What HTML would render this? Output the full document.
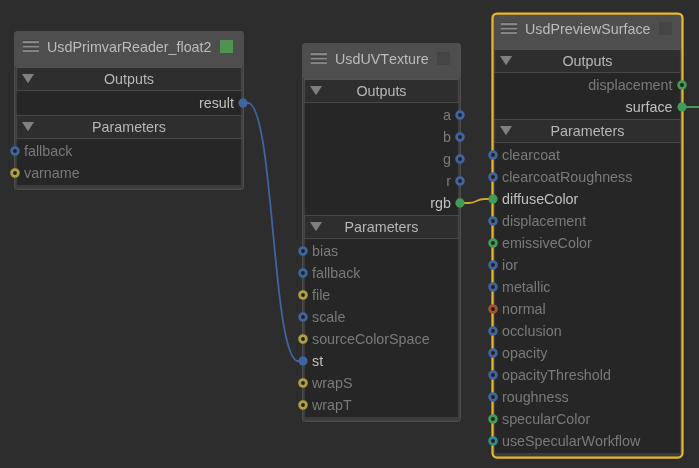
<!DOCTYPE html>
<html><head><meta charset="utf-8"><title>Node Graph</title>
<style>
html,body{margin:0;padding:0}
body{width:699px;height:468px;overflow:hidden;background:#2d2d2d;position:relative;font-family:"Liberation Sans",sans-serif;font-size:14.3px}
#all{position:absolute;left:0;top:0;width:699px;height:468px;will-change:transform}
svg{position:absolute;left:0;top:0}
.t{position:absolute;white-space:nowrap;line-height:18px;height:18px;font-kerning:none}
</style></head><body><div id="all">
<svg width="699" height="468" viewBox="0 0 699 468">
<rect x="14.6" y="31.6" width="228.8" height="157.8" rx="3.5" fill="#3c3c3c" stroke="#4e4e4e" stroke-width="1.2"/>
<path d="M14 66V35.0Q14 31 18.0 31H240.0Q244 31 244 35.0V66Z" fill="#4e4e4e"/>
<rect x="16.1" y="66" width="225.8" height="2" fill="#4e4e4e"/>
<rect x="16.1" y="67" width="225.8" height="1" fill="#525252"/>
<rect x="17.1" y="68" width="223.8" height="117" fill="#262626"/>
<rect x="22.8" y="40.2" width="16.2" height="0.90" fill="#414141"/>
<rect x="22.8" y="41.1" width="16.2" height="2.00" fill="#8a8a8a"/>
<rect x="22.8" y="44.2" width="16.2" height="1.60" fill="#414141"/>
<rect x="22.8" y="45.8" width="16.2" height="1.60" fill="#8a8a8a"/>
<rect x="22.8" y="48.6" width="16.2" height="1.50" fill="#414141"/>
<rect x="22.8" y="50.1" width="16.2" height="1.80" fill="#8a8a8a"/>
<rect x="220" y="40" width="13" height="13" fill="#509350"/>
<rect x="16.1" y="68" width="225.8" height="23" fill="#484848"/>
<rect x="17.1" y="68" width="223.8" height="22" fill="#2e2e2e"/>
<path d="M22 74h12l-6 9.3z" fill="#808080"/>
<rect x="16.1" y="115" width="225.8" height="24" fill="#484848"/>
<rect x="17.1" y="116" width="223.8" height="22" fill="#2e2e2e"/>
<path d="M22 122h12l-6 9.3z" fill="#808080"/>
<rect x="302.6" y="43.6" width="157.8" height="377.8" rx="3.5" fill="#3c3c3c" stroke="#4e4e4e" stroke-width="1.2"/>
<path d="M302 78V47.0Q302 43 306.0 43H457.0Q461 43 461 47.0V78Z" fill="#4e4e4e"/>
<rect x="304.1" y="78" width="154.8" height="2" fill="#4e4e4e"/>
<rect x="304.1" y="79" width="154.8" height="1" fill="#525252"/>
<rect x="305.1" y="80" width="152.8" height="337" fill="#262626"/>
<rect x="310.8" y="52.2" width="16.2" height="0.90" fill="#414141"/>
<rect x="310.8" y="53.1" width="16.2" height="2.00" fill="#8a8a8a"/>
<rect x="310.8" y="56.2" width="16.2" height="1.60" fill="#414141"/>
<rect x="310.8" y="57.8" width="16.2" height="1.60" fill="#8a8a8a"/>
<rect x="310.8" y="60.6" width="16.2" height="1.50" fill="#414141"/>
<rect x="310.8" y="62.1" width="16.2" height="1.80" fill="#8a8a8a"/>
<rect x="437" y="52" width="13" height="13" fill="#454545"/>
<rect x="304.1" y="80" width="154.8" height="23" fill="#484848"/>
<rect x="305.1" y="80" width="152.8" height="22" fill="#2e2e2e"/>
<path d="M310 86h12l-6 9.3z" fill="#808080"/>
<rect x="304.1" y="215" width="154.8" height="24" fill="#484848"/>
<rect x="305.1" y="216" width="152.8" height="22" fill="#2e2e2e"/>
<path d="M310 222h12l-6 9.3z" fill="#808080"/>
<rect x="492.5" y="13.5" width="190" height="444" rx="4.5" fill="#3c3c3c"/>
<path d="M492 48V17.0Q492 13 496.0 13H679.0Q683 13 683 17.0V48Z" fill="#4e4e4e"/>
<rect x="494.1" y="48" width="186.8" height="2" fill="#4e4e4e"/>
<rect x="494.1" y="49" width="186.8" height="1" fill="#525252"/>
<rect x="495.1" y="50" width="184.8" height="403" fill="#262626"/>
<rect x="492.5" y="13.5" width="190" height="444" rx="4.5" fill="none" stroke="#eab726" stroke-width="2.25"/>
<rect x="500.8" y="22.2" width="16.2" height="0.90" fill="#414141"/>
<rect x="500.8" y="23.1" width="16.2" height="2.00" fill="#8a8a8a"/>
<rect x="500.8" y="26.2" width="16.2" height="1.60" fill="#414141"/>
<rect x="500.8" y="27.8" width="16.2" height="1.60" fill="#8a8a8a"/>
<rect x="500.8" y="30.6" width="16.2" height="1.50" fill="#414141"/>
<rect x="500.8" y="32.1" width="16.2" height="1.80" fill="#8a8a8a"/>
<rect x="659" y="22" width="13" height="13" fill="#454545"/>
<rect x="494.1" y="50" width="186.8" height="23" fill="#484848"/>
<rect x="495.1" y="50" width="184.8" height="22" fill="#2e2e2e"/>
<path d="M500 56h12l-6 9.3z" fill="#808080"/>
<rect x="494.1" y="119" width="186.8" height="24" fill="#484848"/>
<rect x="495.1" y="120" width="184.8" height="22" fill="#2e2e2e"/>
<path d="M500 126h12l-6 9.3z" fill="#808080"/>
<path d="M243 103H249C274 113 272 351 297 361H303" stroke="#40649f" stroke-width="1.8" fill="none"/>
<path d="M460 203H469C476 203 477 199 484 199H493" stroke="#d6a424" stroke-width="1.8" fill="none"/>
<path d="M682 107H699" stroke="#449a58" stroke-width="2" fill="none"/>
<circle cx="243" cy="103" r="4.65" fill="#40649f"/>
<circle cx="15" cy="151" r="3.35" fill="#212121" stroke="#40649f" stroke-width="2.85"/>
<circle cx="15" cy="173" r="3.35" fill="#212121" stroke="#afa13f" stroke-width="2.85"/>
<circle cx="460" cy="115" r="3.35" fill="#212121" stroke="#40649f" stroke-width="2.85"/>
<circle cx="460" cy="137" r="3.35" fill="#212121" stroke="#40649f" stroke-width="2.85"/>
<circle cx="460" cy="159" r="3.35" fill="#212121" stroke="#40649f" stroke-width="2.85"/>
<circle cx="460" cy="181" r="3.35" fill="#212121" stroke="#40649f" stroke-width="2.85"/>
<circle cx="460" cy="203" r="4.65" fill="#449a58"/>
<circle cx="303" cy="251" r="3.35" fill="#212121" stroke="#40649f" stroke-width="2.85"/>
<circle cx="303" cy="273" r="3.35" fill="#212121" stroke="#40649f" stroke-width="2.85"/>
<circle cx="303" cy="295" r="3.35" fill="#212121" stroke="#afa13f" stroke-width="2.85"/>
<circle cx="303" cy="317" r="3.35" fill="#212121" stroke="#40649f" stroke-width="2.85"/>
<circle cx="303" cy="339" r="3.35" fill="#212121" stroke="#afa13f" stroke-width="2.85"/>
<circle cx="303" cy="361" r="4.65" fill="#40649f"/>
<circle cx="303" cy="383" r="3.35" fill="#212121" stroke="#afa13f" stroke-width="2.85"/>
<circle cx="303" cy="405" r="3.35" fill="#212121" stroke="#afa13f" stroke-width="2.85"/>
<circle cx="682" cy="85" r="3.35" fill="#212121" stroke="#449a58" stroke-width="2.85"/>
<circle cx="682" cy="107" r="4.65" fill="#449a58"/>
<circle cx="493" cy="155" r="3.35" fill="#212121" stroke="#40649f" stroke-width="2.85"/>
<circle cx="493" cy="177" r="3.35" fill="#212121" stroke="#40649f" stroke-width="2.85"/>
<circle cx="493" cy="199" r="4.65" fill="#449a58"/>
<circle cx="493" cy="221" r="3.35" fill="#212121" stroke="#40649f" stroke-width="2.85"/>
<circle cx="493" cy="243" r="3.35" fill="#212121" stroke="#449a58" stroke-width="2.85"/>
<circle cx="493" cy="265" r="3.35" fill="#212121" stroke="#40649f" stroke-width="2.85"/>
<circle cx="493" cy="287" r="3.35" fill="#212121" stroke="#40649f" stroke-width="2.85"/>
<circle cx="493" cy="309" r="3.35" fill="#212121" stroke="#a25430" stroke-width="2.85"/>
<circle cx="493" cy="331" r="3.35" fill="#212121" stroke="#40649f" stroke-width="2.85"/>
<circle cx="493" cy="353" r="3.35" fill="#212121" stroke="#40649f" stroke-width="2.85"/>
<circle cx="493" cy="375" r="3.35" fill="#212121" stroke="#40649f" stroke-width="2.85"/>
<circle cx="493" cy="397" r="3.35" fill="#212121" stroke="#40649f" stroke-width="2.85"/>
<circle cx="493" cy="419" r="3.35" fill="#212121" stroke="#449a58" stroke-width="2.85"/>
<circle cx="493" cy="441" r="3.35" fill="#212121" stroke="#318a8e" stroke-width="2.85"/>
</svg>
<div class="t" style="left:47px;top:38px;color:#bcbcbc">UsdPrimvarReader_float2</div>
<div class="t" style="left:17px;width:224px;text-align:center;top:70px;color:#b7b7b7">Outputs</div>
<div class="t" style="left:17px;width:216.9px;text-align:right;top:94px;color:#c0c0c0">result</div>
<div class="t" style="left:17px;width:224px;text-align:center;top:118px;color:#b7b7b7">Parameters</div>
<div class="t" style="left:24px;top:142px;color:#7a7a7a">fallback</div>
<div class="t" style="left:24px;top:164px;color:#7a7a7a">varname</div>
<div class="t" style="left:335px;top:50px;color:#bcbcbc">UsdUVTexture</div>
<div class="t" style="left:305px;width:153px;text-align:center;top:82px;color:#b7b7b7">Outputs</div>
<div class="t" style="left:305px;width:145.9px;text-align:right;top:106px;color:#7a7a7a">a</div>
<div class="t" style="left:305px;width:145.9px;text-align:right;top:128px;color:#7a7a7a">b</div>
<div class="t" style="left:305px;width:145.9px;text-align:right;top:150px;color:#7a7a7a">g</div>
<div class="t" style="left:305px;width:145.9px;text-align:right;top:172px;color:#7a7a7a">r</div>
<div class="t" style="left:305px;width:145.9px;text-align:right;top:194px;color:#c0c0c0">rgb</div>
<div class="t" style="left:305px;width:153px;text-align:center;top:218px;color:#b7b7b7">Parameters</div>
<div class="t" style="left:312px;top:242px;color:#7a7a7a">bias</div>
<div class="t" style="left:312px;top:264px;color:#7a7a7a">fallback</div>
<div class="t" style="left:312px;top:286px;color:#7a7a7a">file</div>
<div class="t" style="left:312px;top:308px;color:#7a7a7a">scale</div>
<div class="t" style="left:312px;top:330px;color:#7a7a7a">sourceColorSpace</div>
<div class="t" style="left:312px;top:352px;color:#c0c0c0">st</div>
<div class="t" style="left:312px;top:374px;color:#7a7a7a">wrapS</div>
<div class="t" style="left:312px;top:396px;color:#7a7a7a">wrapT</div>
<div class="t" style="left:525px;top:20px;color:#bcbcbc">UsdPreviewSurface</div>
<div class="t" style="left:495px;width:185px;text-align:center;top:52px;color:#b7b7b7">Outputs</div>
<div class="t" style="left:495px;width:177.5px;text-align:right;top:76px;color:#7a7a7a">displacement</div>
<div class="t" style="left:495px;width:177.5px;text-align:right;top:98px;color:#c0c0c0">surface</div>
<div class="t" style="left:495px;width:185px;text-align:center;top:122px;color:#b7b7b7">Parameters</div>
<div class="t" style="left:502px;top:146px;color:#7a7a7a">clearcoat</div>
<div class="t" style="left:502px;top:168px;color:#7a7a7a">clearcoatRoughness</div>
<div class="t" style="left:502px;top:190px;color:#c0c0c0">diffuseColor</div>
<div class="t" style="left:502px;top:212px;color:#7a7a7a">displacement</div>
<div class="t" style="left:502px;top:234px;color:#7a7a7a">emissiveColor</div>
<div class="t" style="left:502px;top:256px;color:#7a7a7a">ior</div>
<div class="t" style="left:502px;top:278px;color:#7a7a7a">metallic</div>
<div class="t" style="left:502px;top:300px;color:#7a7a7a">normal</div>
<div class="t" style="left:502px;top:322px;color:#7a7a7a">occlusion</div>
<div class="t" style="left:502px;top:344px;color:#7a7a7a">opacity</div>
<div class="t" style="left:502px;top:366px;color:#7a7a7a">opacityThreshold</div>
<div class="t" style="left:502px;top:388px;color:#7a7a7a">roughness</div>
<div class="t" style="left:502px;top:410px;color:#7a7a7a">specularColor</div>
<div class="t" style="left:502px;top:432px;color:#7a7a7a">useSpecularWorkflow</div>
</div></body></html>
